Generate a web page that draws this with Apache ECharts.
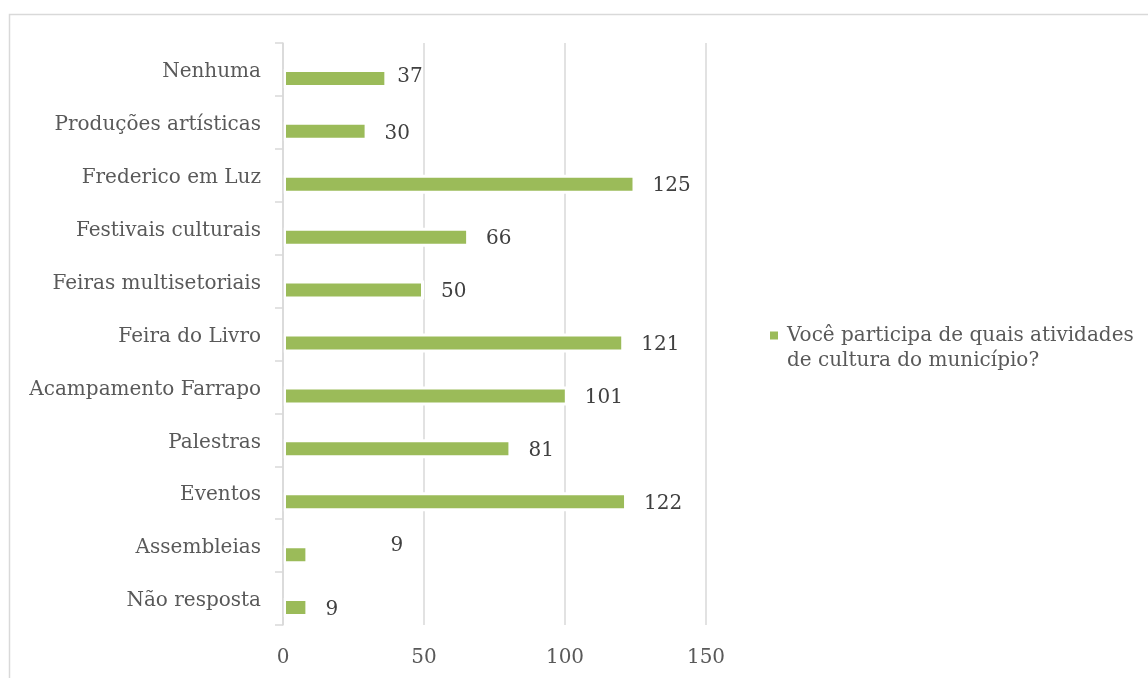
<!DOCTYPE html>
<html>
<head>
<meta charset="utf-8">
<script src="https://cdn.jsdelivr.net/npm/echarts@6/dist/echarts.min.js"></script>
<style>
  html, body { margin: 0; padding: 0; background: #fff; }
  #chart { width: 1148px; height: 678px; }
</style>
</head>
<body>
<div id="chart"></div>
<script>
// Activities, listed top to bottom
const categories = [
  'Nenhuma',
  'Produções artísticas',
  'Frederico em Luz',
  'Festivais culturais',
  'Feiras multisetoriais',
  'Feira do Livro',
  'Acampamento Farrapo',
  'Palestras',
  'Eventos',
  'Assembleias',
  'Não resposta'
];
// Number of answers per activity
const values = [37, 30, 125, 66, 50, 121, 101, 81, 122, 9, 9];
// Value axis ticks
const xTicks = [0, 50, 100, 150];
const seriesName = 'Você participa de quais atividades de cultura do município?';

// data labels that were dragged away from their default spot
const labelNudges = { 'Nenhuma': [-7, -2], 'Assembleias': [65, -9] };

const SERIF = '"DejaVu Serif", "Liberation Serif", serif';
const GRID = '#d9d9d9';

const chart = echarts.init(document.getElementById('chart'), null, { renderer: 'canvas' });

const barData = values.map((v, i) => {
  const nudge = labelNudges[categories[i]];
  return nudge ? { value: v, label: { offset: nudge } } : v;
});

chart.setOption({
  animation: false,
  backgroundColor: '#ffffff',
  graphic: [{
    type: 'rect',
    silent: true,
    z: -1,
    shape: { x: 9.5, y: 14.5, width: 1300, height: 800 },
    style: { fill: 'none', stroke: GRID, lineWidth: 1.5 }
  }],
  grid: { left: 283, right: 442, top: 43, bottom: 53, containLabel: false },
  legend: {
    data: [seriesName],
    orient: 'vertical',
    left: 770,
    top: 323,
    padding: 0,
    itemWidth: 8,
    itemHeight: 33,
    // square marker sitting level with the first line of the wrapped name
    icon: 'path://M0,0H8V8H0Z M0,33H8V33H0Z',
    itemStyle: { color: '#9bbb59', borderWidth: 0 },
    selectedMode: false,
    textStyle: {
      fontFamily: SERIF,
      fontSize: 20,
      color: '#595959',
      lineHeight: 25,
      width: 380,
      overflow: 'break',
      padding: [0, 0, 0, 4]
    }
  },
  xAxis: {
    type: 'value',
    min: xTicks[0],
    max: xTicks[xTicks.length - 1],
    interval: xTicks[1] - xTicks[0],
    axisLine: { show: false },
    axisTick: { show: false },
    splitLine: { show: true, lineStyle: { color: GRID, width: 1.5 } },
    axisLabel: {
      margin: 23,
      fontFamily: SERIF,
      fontSize: 20,
      color: '#595959'
    }
  },
  yAxis: {
    type: 'category',
    data: categories,
    inverse: true,
    z: 10,
    axisLine: { show: true, lineStyle: { color: GRID, width: 1.5 } },
    axisTick: { show: true, length: 8, lineStyle: { color: GRID, width: 1.5 } },
    splitLine: { show: false },
    axisLabel: {
      margin: 22,
      // a short line box hung from the band centre drops the text slightly
      verticalAlign: 'top',
      lineHeight: 5,
      fontFamily: SERIF,
      fontSize: 20,
      color: '#595959'
    }
  },
  series: [
    {
      // empty slot that sits above each bar within its category band
      name: 'slot',
      type: 'bar',
      data: categories.map(() => '-'),
      barWidth: 19,
      barGap: '-5.3%',
      silent: true
    },
    {
      name: seriesName,
      type: 'bar',
      data: barData,
      barWidth: 19,
      barGap: '-5.3%',
      itemStyle: { color: '#9bbb59', borderColor: '#ffffff', borderWidth: 3 },
      label: {
        show: true,
        position: 'right',
        distance: 17,
        offset: [0, 2],
        fontFamily: SERIF,
        fontSize: 20,
        color: '#404040'
      }
    }
  ]
});
</script>
</body>
</html>
